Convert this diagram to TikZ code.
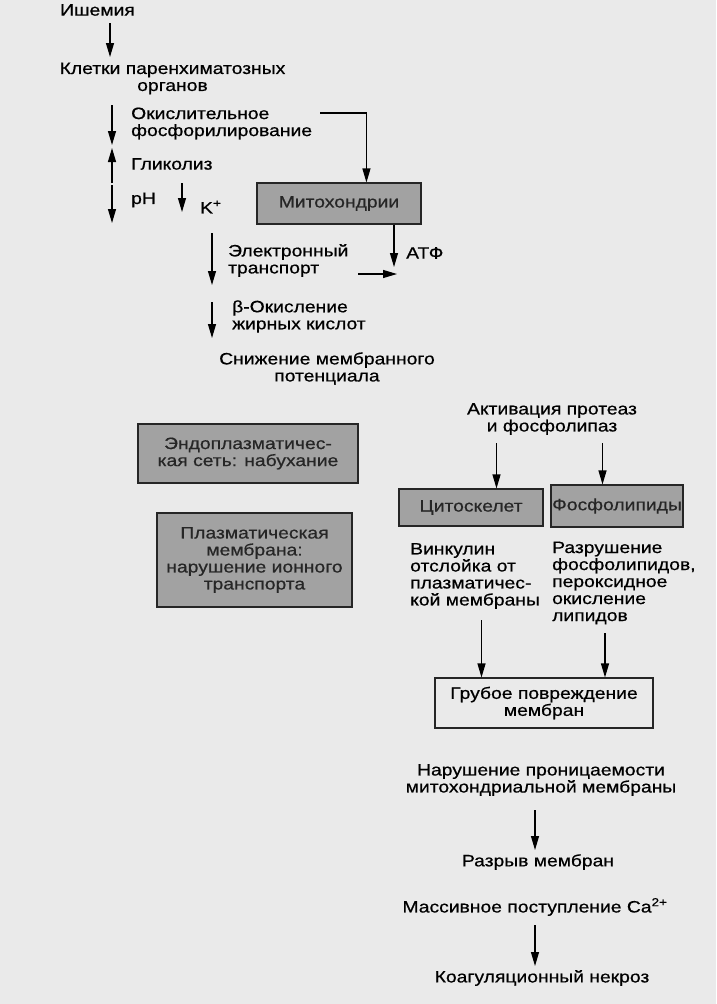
\documentclass[tikz,border=0pt]{standalone}
\usepackage{fontspec}
\setmainfont{Liberation Sans}[FakeStretch=1.17, FakeBold=0.6]
\usetikzlibrary{arrows.meta,calc}
\definecolor{pagebg}{HTML}{EAEAEA}
\definecolor{boxfill}{HTML}{A2A2A2}
\tikzset{
  lbl/.style={inner sep=0pt, font=\fontsize{16.5}{17}\selectfont, text=black},
  lbll/.style={lbl, align=left, anchor=west},
  lblc/.style={lbl, align=center},
  graybox/.style={draw=black!85, line width=1.1pt, fill=boxfill, inner sep=0pt, font=\fontsize{16.5}{17}\selectfont, align=center, text=black!85},
  whitebox/.style={draw=black!85, line width=1.1pt, fill=none, inner sep=0pt, font=\fontsize{16.5}{17}\selectfont, align=center},
  arr/.style={draw=black, line width=1.1pt, -{Triangle[length=14pt,width=8pt]}}
}
\begin{document}
\begin{tikzpicture}[x=1pt,y=-1pt]
\fill[pagebg] (0,0) rectangle (716,1004);
\useasboundingbox (0,0) rectangle (716,1004);

% text nodes
\node[lbll] (isch) at (60,10) {Ишемия};
\node[lblc] (cells) at (172.5,78.5) {Клетки паренхиматозных\\органов};
\node[lbll] (oxphos) at (131,123.5) {Окислительное\\фосфорилирование};
\node[lbll] (glyc) at (131,164) {Гликолиз};
\node[lbll] (ph) at (131,200) {pH};
\node[lbll] (kplus) at (200,207) {K\textsuperscript{+}};
\node[lbll] (atp) at (406,253) {АТФ};
\node[lbll] (etrans) at (228,260.5) {Электронный\\транспорт};
\node[lbll] (boxid) at (232,316.5) {β-Окисление\\жирных кислот};
\node[lblc] (memb) at (327,368.5) {Снижение мембранного\\потенциала};
\node[lblc] (activ) at (552,419) {Активация протеаз\\и фосфолипаз};
\node[lbll] (vinc) at (410,576) {Винкулин\\отслойка от\\плазматичес-\\кой мембраны};
\node[lbll] (destr) at (552,583) {Разрушение\\фосфолипидов,\\пероксидное\\окисление\\липидов};
\node[lblc] (perm) at (541,780) {Нарушение проницаемости\\митохондриальной мембраны};
\node[lblc] (rupt) at (538,862) {Разрыв мембран};
\node[lblc] (ca) at (535,907) {Массивное поступление Ca\textsuperscript{2+}};
\node[lblc] (necr) at (542,978) {Коагуляционный некроз};

% boxes
\node[graybox, minimum width=164pt, minimum height=41pt] (mito) at (339,203.5) {Митохондрии};
\node[graybox, minimum width=220pt, minimum height=59pt] (er) at (248,453.5) {Эндоплазматичес-\\кая сеть: набухание};
\node[graybox, minimum width=195pt, minimum height=94pt] (pm) at (254.5,560) {Плазматическая\\мембрана:\\нарушение ионного\\транспорта};
\node[graybox, minimum width=144pt, minimum height=37pt] (cyto) at (471,507.5) {Цитоскелет};
\node[graybox, minimum width=132pt, minimum height=42pt] (phos) at (617,506) {Фосфолипиды};
\node[whitebox, minimum width=218pt, minimum height=50pt] (gross) at (544,703) {Грубое повреждение\\мембран};

% free arrow ends
\coordinate (a1s) at (110,23);  \coordinate (a1e) at (110,57);
\coordinate (a2s) at (112,105); \coordinate (a2e) at (112,145);
\coordinate (a3s) at (112,183); \coordinate (a3e) at (112,148);
\coordinate (a4s) at (112,185); \coordinate (a4e) at (112,223);
\coordinate (a5s) at (182,183); \coordinate (a5e) at (182,212);
\coordinate (oxs) at (320,113);
\coordinate (atpt) at (394,267);
\coordinate (a8s) at (358,274); \coordinate (a8e) at (397,274);
\coordinate (a9s) at (212,233); \coordinate (a9e) at (212,285);
\coordinate (a10s) at (212,302); \coordinate (a10e) at (212,338);
\coordinate (ac1) at (496.5,443);
\coordinate (ac2) at (602.5,443);
\coordinate (vs) at (481.5,620);
\coordinate (ds) at (605,633);
\coordinate (a15s) at (535,810); \coordinate (a15e) at (535,850);
\coordinate (a16s) at (535,925); \coordinate (a16e) at (535,966);

% connectors
\draw[arr] (a1s) -- (a1e);
\draw[arr] (a2s) -- (a2e);
\draw[arr] (a3s) -- (a3e);
\draw[arr] (a4s) -- (a4e);
\draw[arr] (a5s) -- (a5e);
\draw[arr] (oxs) -| ($(mito.north west)+(110,0)$);
\draw[arr] (mito.south -| atpt) -- (atpt);
\draw[arr] (a8s) -- (a8e);
\draw[arr] (a9s) -- (a9e);
\draw[arr] (a10s) -- (a10e);
\draw[arr] (ac1) -- (ac1 |- cyto.north);
\draw[arr] (ac2) -- (ac2 |- phos.north);
\draw[arr] (vs) -- (vs |- gross.north);
\draw[arr] (ds) -- (ds |- gross.north);
\draw[arr] (a15s) -- (a15e);
\draw[arr] (a16s) -- (a16e);
\end{tikzpicture}
\end{document}
